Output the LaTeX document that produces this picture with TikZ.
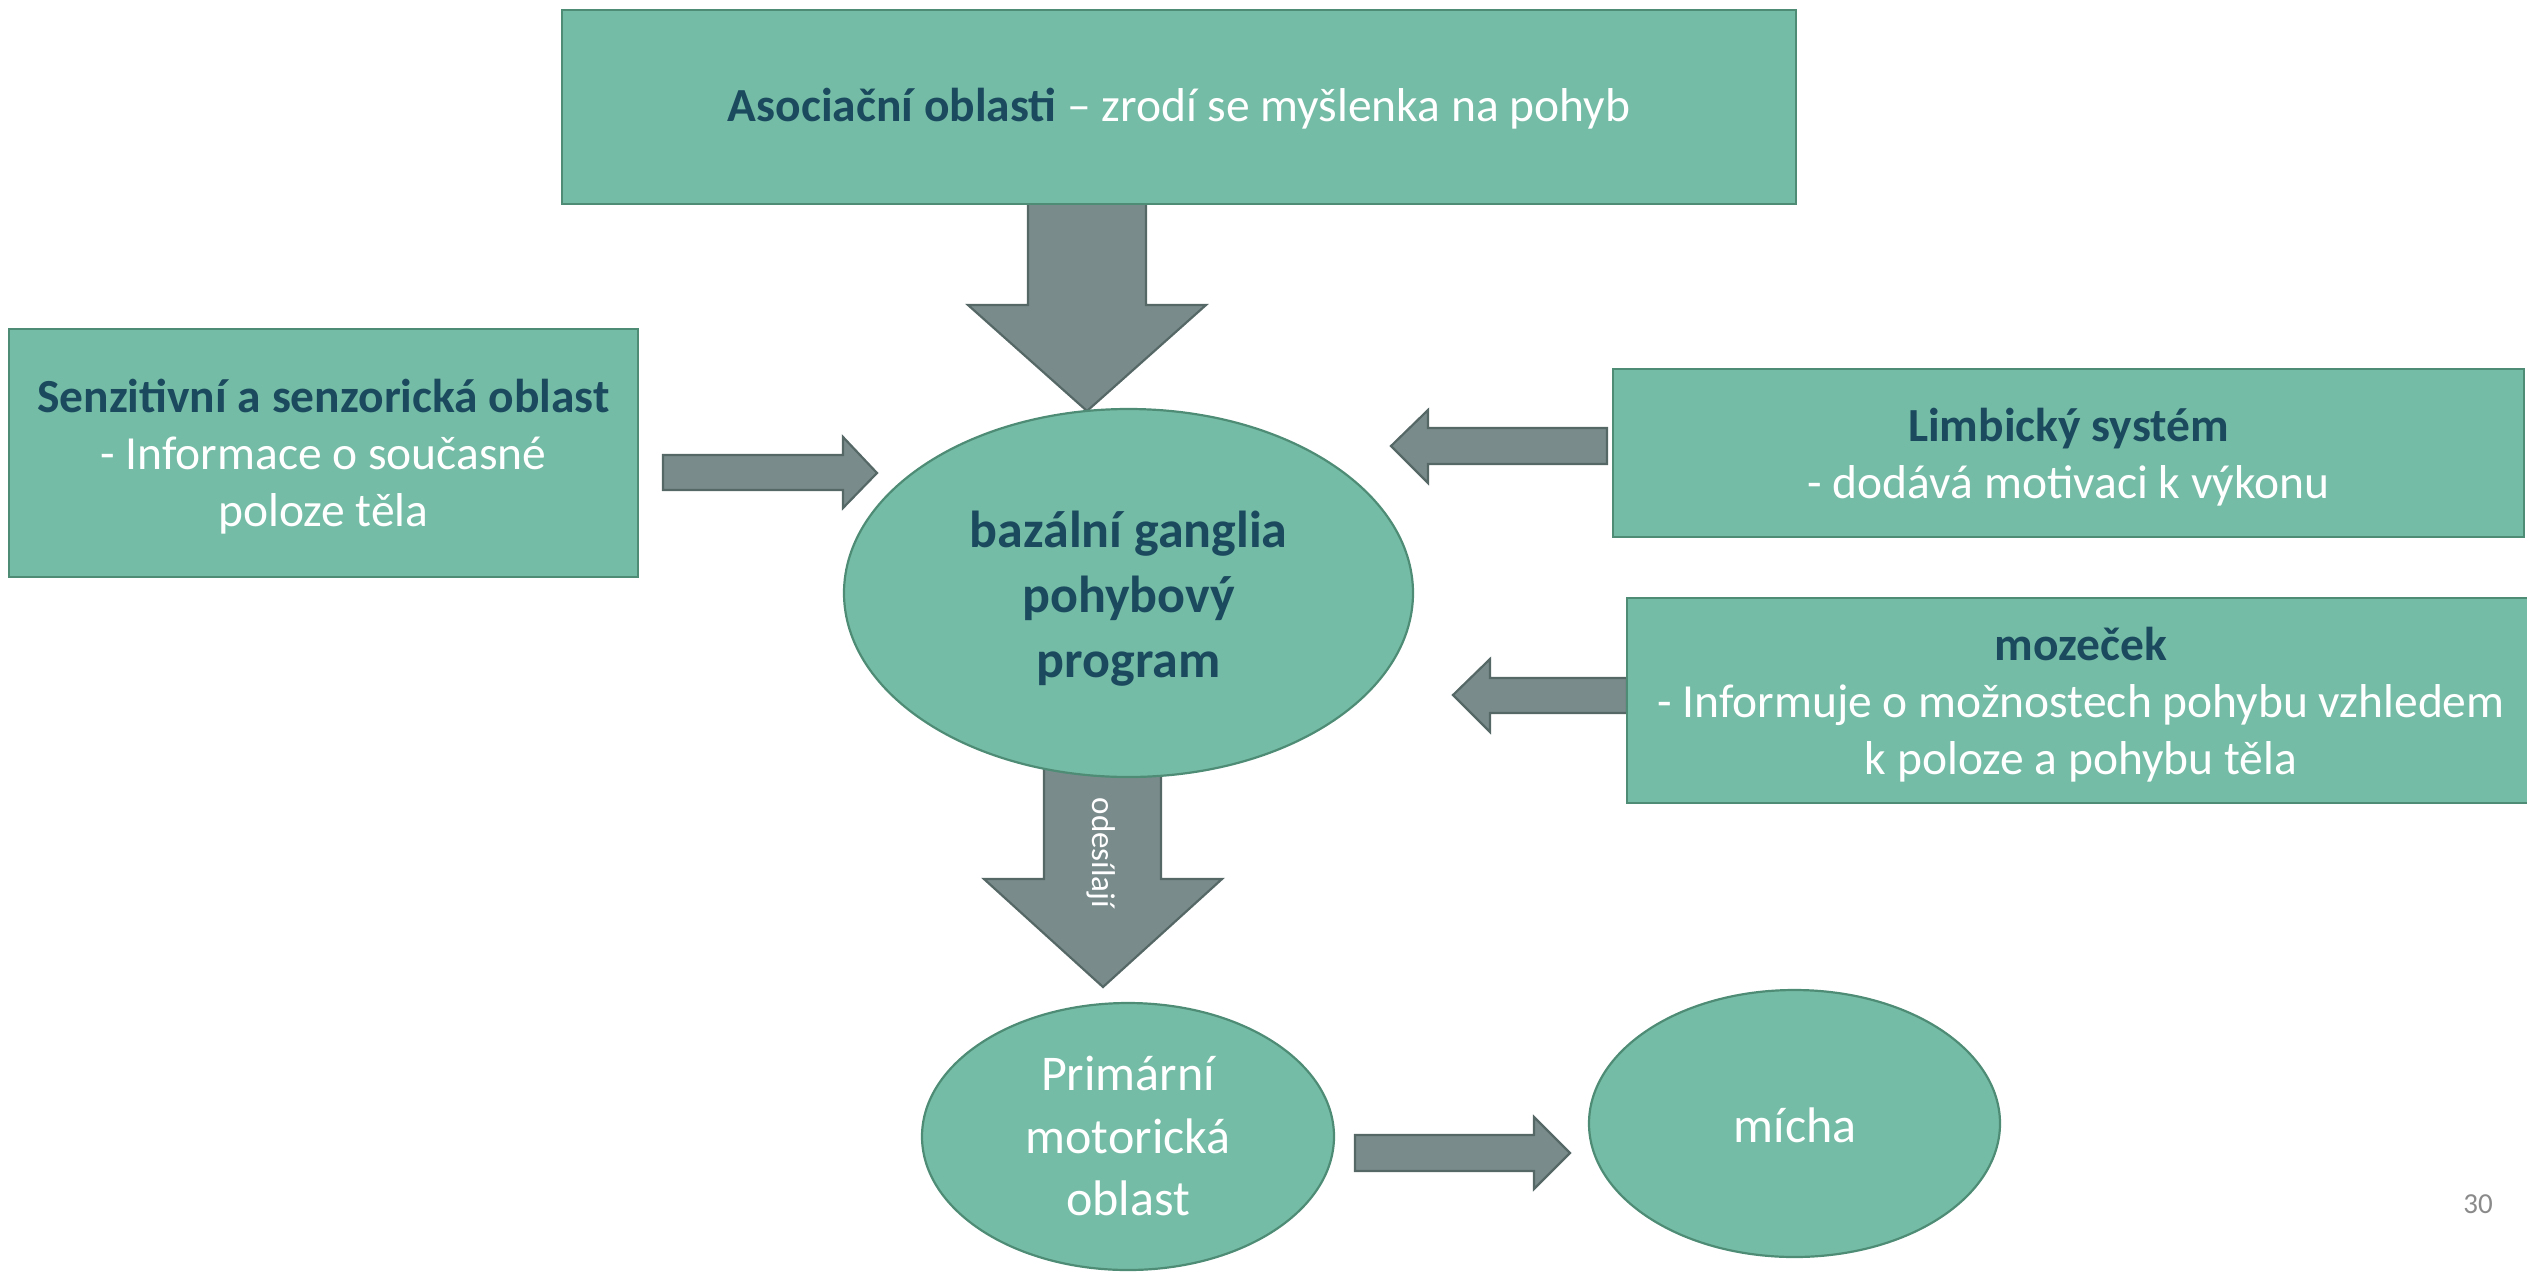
\documentclass[tikz,border=0pt]{standalone}
\usepackage{fontspec}
\setmainfont{Carlito}
\usetikzlibrary{shapes.geometric}
\definecolor{tealfill}{HTML}{75BCA6}
\definecolor{tealline}{HTML}{4E8C76}
\definecolor{arrowfill}{HTML}{7A8B8C}
\definecolor{arrowline}{HTML}{566866}
\definecolor{darktext}{HTML}{1B495E}
\definecolor{pagenum}{HTML}{8A8A8A}
\begin{document}
\begin{tikzpicture}[x=1pt,y=-1pt,
  boxshape/.style={rectangle, draw=tealline, fill=tealfill, line width=2.2pt, inner sep=0pt},
  ellshape/.style={ellipse, draw=tealline, fill=tealfill, line width=2.2pt, inner sep=0pt},
  blockarrow/.style={draw=arrowline, fill=arrowfill, line width=2.2pt, line join=miter},
  txt/.style={inner sep=0pt, anchor=base},
  hd/.style={txt, text=darktext, font=\bfseries\fontsize{47.5}{57}\selectfont},
  bd/.style={txt, text=white, font=\fontsize{47.5}{57}\selectfont},
  hdbig/.style={txt, text=darktext, font=\bfseries\fontsize{52}{62}\selectfont},
  bdbig/.style={txt, text=white, font=\fontsize{50}{62}\selectfont}]
\useasboundingbox (0,0) rectangle (2527,1275);

% block arrows (drawn first, beneath shapes)
\draw[blockarrow] (1028,199) -- (1146,199) -- (1146,305) -- (1206,305) -- (1087,411)
  -- (968,305) -- (1028,305) -- cycle;
\draw[blockarrow] (663,455) -- (843,455) -- (843,437) -- (877,473) -- (843,508)
  -- (843,490) -- (663,490) -- cycle;
\draw[blockarrow] (1607,428) -- (1428,428) -- (1428,410) -- (1391,446) -- (1428,483)
  -- (1428,464) -- (1607,464) -- cycle;
\draw[blockarrow] (1627,678) -- (1490,678) -- (1490,659) -- (1453,695) -- (1490,732)
  -- (1490,713) -- (1627,713) -- cycle;
\draw[blockarrow] (1044,765) -- (1161,765) -- (1161,879) -- (1222,879) -- (1103,987)
  -- (984,879) -- (1044,879) -- cycle;
\draw[blockarrow] (1355,1135) -- (1534,1135) -- (1534,1117) -- (1570,1153) -- (1534,1189)
  -- (1534,1171) -- (1355,1171) -- cycle;

% boxes
\node[boxshape, minimum width=1234pt, minimum height=194pt] (asoc) at (1179,107) {};
\node[boxshape, minimum width=629pt, minimum height=248pt] (senz) at (323.5,453) {};
\node[boxshape, minimum width=911pt, minimum height=168pt] (limb) at (2068.5,453) {};
\node[boxshape, minimum width=912pt, minimum height=205pt] (moz) at (2083,700.5) {};

% ellipses
\node[ellshape, minimum width=569pt, minimum height=368pt] (bg) at (1128.5,593) {};
\node[ellshape, minimum width=412pt, minimum height=267pt] (prim) at (1128,1136.5) {};
\node[ellshape, minimum width=411pt, minimum height=267pt] (micha) at (1794.5,1123.5) {};

% texts
\node[bd] (asoct) at (1179,121.7) {\textbf{\color{darktext}Asociační oblasti} – zrodí se myšlenka na pohyb};

\node[hd] (senz1) at (323.5,412) {Senzitivní a senzorická oblast};
\node[bd] (senz2) at (323.5,469) {- Informace o současné};
\node[bd] (senz3) at (323.5,526) {poloze těla};

\node[hd] (limb1) at (2068.5,441) {Limbický systém};
\node[bd] (limb2) at (2068.5,498) {- dodává motivaci k výkonu};

\node[hd] (moz1) at (2081,660) {mozeček};
\node[bd] (moz2) at (2081,717) {- Informuje o možnostech pohybu vzhledem};
\node[bd] (moz3) at (2081,774) {k poloze a pohybu těla};

\node[hdbig] (bg1) at (1128.5,547) {bazální ganglia};
\node[hdbig] (bg2) at (1128.5,612) {pohybový};
\node[hdbig] (bg3) at (1128.5,677) {program};

\node[bdbig] (prim1) at (1128,1090) {Primární};
\node[bdbig] (prim2) at (1128,1153) {motorická};
\node[bdbig] (prim3) at (1128,1215) {oblast};

\node[bdbig] (micha1) at (1795,1142) {mícha};

\node[txt, rotate=-90, text=white, font=\fontsize{33}{39}\selectfont] (odes) at (1092,853) {odesílají};

\node[txt, text=pagenum, font=\fontsize{29}{35}\selectfont] (page) at (2478,1213) {30};
\end{tikzpicture}
\end{document}
